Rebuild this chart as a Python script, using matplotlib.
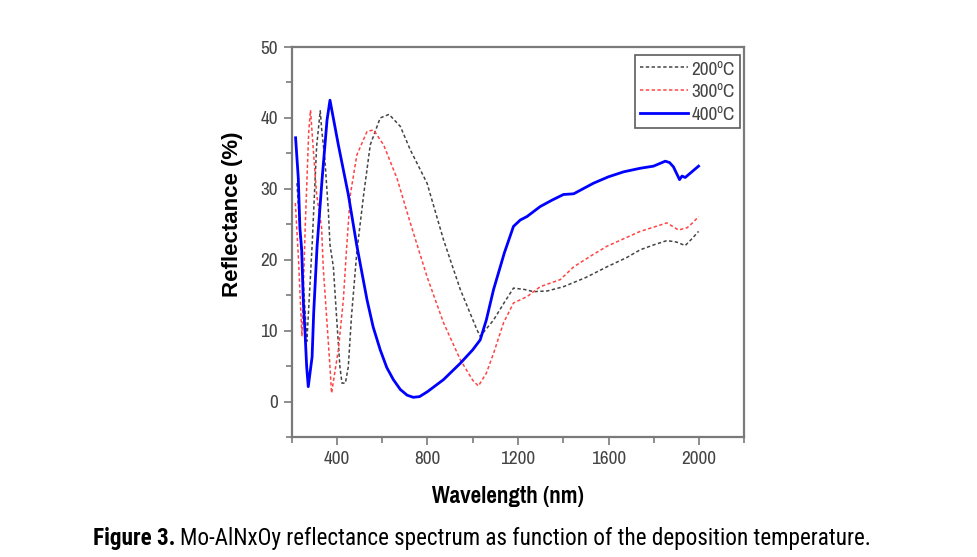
import matplotlib
matplotlib.use("Agg")
import matplotlib.pyplot as plt
from matplotlib.ticker import MultipleLocator

# ---- data ----
wl_200 = [223, 245, 267, 290, 310, 326, 332, 347, 362, 369, 384, 398, 413, 422, 437, 450,
          464, 488, 518, 547, 591, 630, 680, 724, 798, 871, 945, 1019, 1033, 1092, 1140, 1180,
          1230, 1269, 1330, 1401, 1500, 1593, 1680, 1740, 1800, 1858, 1900, 1939, 1970, 1998]
r_200 = [30.8, 20.0, 8.5, 22.0, 36.0, 41.0, 38.5, 33.9, 26.8, 22.1, 19.0, 12.0, 4.9, 2.6, 2.6, 4.9,
         12.0, 21.2, 29.2, 36.2, 40.0, 40.5, 38.8, 35.5, 30.8, 22.8, 15.8, 10.1, 9.2, 11.5, 14.0, 16.0,
         15.8, 15.5, 15.6, 16.2, 17.5, 19.0, 20.3, 21.4, 22.1, 22.7, 22.5, 22.0, 23.0, 24.0]

wl_300 = [216, 230, 245, 260, 275, 283, 292, 310, 332, 339, 354, 369, 376, 406, 428, 442,
          459, 488, 533, 562, 606, 665, 724, 798, 871, 945, 1000, 1025, 1060, 1092, 1136, 1180,
          1240, 1298, 1387, 1446, 1520, 1593, 1670, 1740, 1800, 1858, 1909, 1947, 1975, 1998]
r_300 = [28.0, 20.0, 9.2, 25.0, 38.0, 41.1, 37.0, 29.2, 24.5, 19.0, 12.0, 4.9, 1.2, 7.3, 14.3, 21.4,
         29.2, 34.8, 38.1, 38.3, 36.2, 31.5, 25.2, 17.6, 11.1, 5.9, 3.0, 2.2, 4.0, 6.8, 11.1, 13.9,
         14.8, 16.2, 17.2, 19.0, 20.5, 21.9, 23.0, 24.0, 24.6, 25.2, 24.2, 24.5, 25.3, 26.1]

wl_400 = [217, 229, 236, 244, 251, 259, 266, 273, 290, 297, 312, 334, 356, 369, 406, 450,
          487, 533, 560, 591, 620, 649, 680, 710, 737, 765, 800, 871, 945, 1000, 1033, 1060,
          1092, 1140, 1180, 1210, 1240, 1298, 1350, 1401, 1446, 1534, 1600, 1667, 1740, 1799,
          1851, 1870, 1887, 1914, 1925, 1939, 1961, 1998]
r_400 = [37.2, 31.5, 24.5, 21.4, 14.3, 9.6, 4.9, 2.1, 6.3, 12.5, 21.9, 31.3, 39.7, 42.5, 36.2, 29.2,
         22.1, 14.3, 10.5, 7.3, 4.8, 3.1, 1.7, 0.9, 0.6, 0.7, 1.4, 3.1, 5.4, 7.3, 8.7, 11.5,
         15.8, 21.0, 24.7, 25.6, 26.1, 27.5, 28.4, 29.2, 29.3, 30.8, 31.7, 32.4, 32.9, 33.2,
         33.9, 33.7, 33.1, 31.3, 31.8, 31.6, 32.2, 33.2]

labels = ["200\u00baC", "300\u00baC", "400\u00baC"]
x_ticks = [400, 800, 1200, 1600, 2000]
y_ticks = [0, 10, 20, 30, 40, 50]

NARROW = ['Pragati Narrow', 'Archivo Narrow', 'Liberation Sans', 'DejaVu Sans']
CAPTION = ['Roboto Condensed', 'Archivo Narrow', 'Liberation Sans', 'DejaVu Sans']
plt.rcParams['font.family'] = NARROW

fig = plt.figure(figsize=(9.78, 5.57), dpi=100)
ax = fig.add_axes([0.2983, 0.2154, 0.7610 - 0.2983, 0.9156 - 0.2154])

ax.plot(wl_200, r_200, color='#444444', lw=1.1, ls=(0, (2.2, 1.6)), label=labels[0])
ax.plot(wl_300, r_300, color='#ff4444', lw=1.1, ls=(0, (2.2, 1.6)), label=labels[1])
ax.plot(wl_400, r_400, color='#0000ff', lw=2.0, label=labels[2])

ax.set_xlim(200, 2200)
ax.set_ylim(-5, 50)
ax.set_xticks(x_ticks)
ax.set_yticks(y_ticks)
ax.xaxis.set_minor_locator(MultipleLocator(200))
ax.yaxis.set_minor_locator(MultipleLocator(5))

spine_c = '#7a7a7a'
for s in ax.spines.values():
    s.set_color(spine_c)
    s.set_linewidth(1.6)
ax.tick_params(which='both', direction='out', color=spine_c, width=1.2,
               labelcolor='#444444', labelsize=15, top=False, right=False)
ax.tick_params(which='major', length=6, pad=4)
ax.tick_params(which='minor', length=4)

ax.set_ylabel("Reflectance (%)", fontsize=16, fontweight='bold',
              family=['Liberation Sans', 'DejaVu Sans'])
ax.yaxis.set_label_coords(-0.108, 0.572)
ax.set_xlabel("Wavelength (nm)", fontsize=18, fontweight='bold')
ax.xaxis.set_label_coords(0.478, -0.125)

leg = ax.legend(loc='upper right', bbox_to_anchor=(0.99, 0.98), fontsize=15, frameon=True,
                fancybox=False, handlelength=2.3, handletextpad=0.15, borderpad=0.25,
                labelspacing=0.25, borderaxespad=0.0)
leg.get_frame().set_edgecolor('#333333')
leg.get_frame().set_linewidth(1.2)
for t in leg.get_texts():
    t.set_color('#444444')

# caption: bold lead-in followed by regular text, fitted to the reference width
t1 = fig.text(93 / 978, 0.013, "Figure 3.", fontsize=18, fontweight='bold', ha='left',
              va='bottom', family=CAPTION)
t2 = fig.text(0.2, 0.013, "Mo-AlNxOy reflectance spectrum as function of the deposition temperature.",
              fontsize=18, ha='left', va='bottom', family=CAPTION)
fig.canvas.draw()
r = fig.canvas.get_renderer()
w1 = t1.get_window_extent(r).width
w2 = t2.get_window_extent(r).width
target_total = 873 - 93
gap = 5
scale = (target_total - gap) / (w1 + w2)
t1.set_fontsize(18 * scale)
t2.set_fontsize(18 * scale)
fig.canvas.draw()
w1 = t1.get_window_extent(r).width
t2.set_x((93 + w1 + gap) / 978)

fig.savefig("out.png", dpi=100)
